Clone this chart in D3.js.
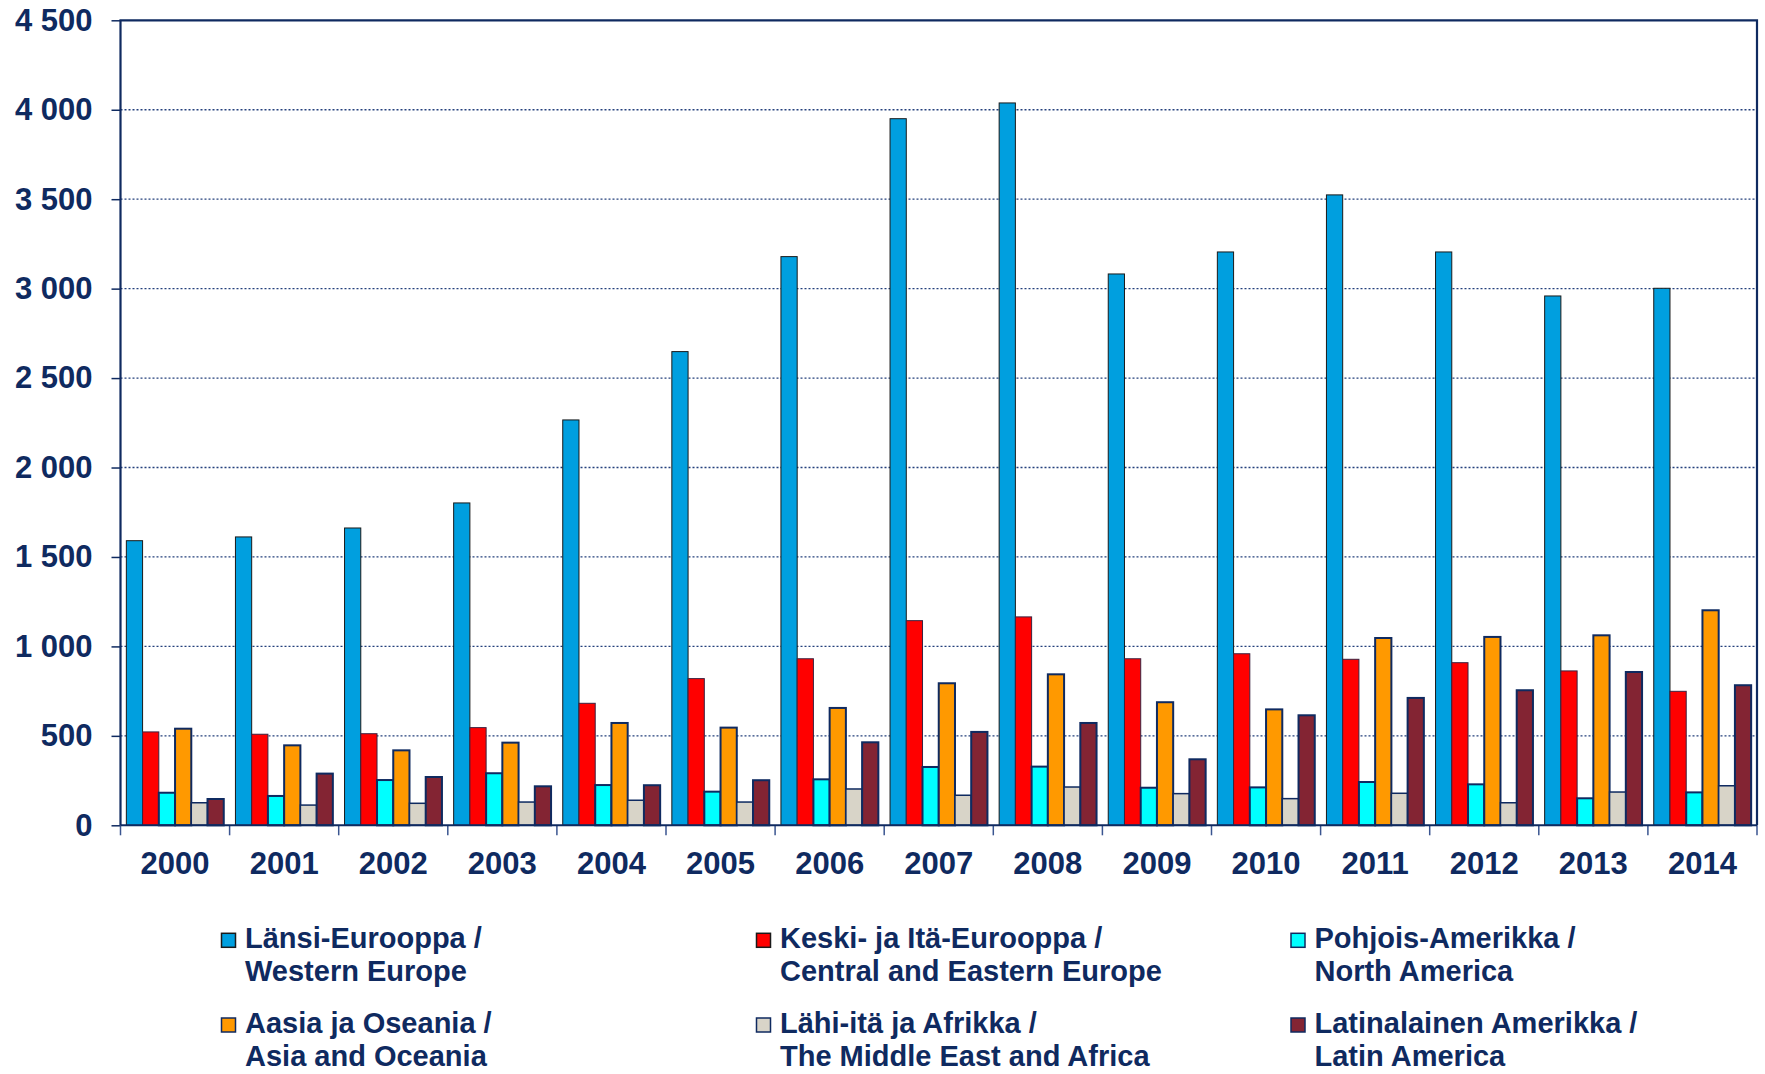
<!DOCTYPE html>
<html lang="fi">
<head>
    <meta charset="UTF-8">
    <title>Alueet 2000-2014</title>
    <script src="https://cdn.jsdelivr.net/npm/d3@7"></script>
    <style>
        body {
            margin: 0;
            background: white;
        }
        svg {
            display: block;
        }
        text {
            font-family: "Liberation Sans", Arial, sans-serif;
            font-weight: bold;
            fill: #0f2a60;
        }
    </style>
</head>
<body>
<script>
    const width  = 1765;
    const height = 1074;

    // Years on the x axis
    const years = ["2000", "2001", "2002", "2003", "2004", "2005", "2006", "2007",
                   "2008", "2009", "2010", "2011", "2012", "2013", "2014"];

    // One array for each region
    const westernEurope    = [1591, 1612, 1662, 1802, 2266, 2648, 3179, 3950, 4038, 3082, 3205, 3524, 3205, 2959, 3002];
    const centralEastern   = [522, 509, 512, 546, 682, 820, 931, 1144, 1165, 931, 959, 928, 909, 863, 749];
    const northAmerica     = [182, 164, 253, 291, 225, 188, 257, 326, 328, 210, 212, 242, 229, 151, 184];
    const asiaOceania      = [540, 447, 419, 462, 572, 546, 656, 794, 844, 688, 648, 1047, 1053, 1062, 1202];
    const middleEastAfrica = [126, 113, 123, 130, 140, 130, 203, 168, 214, 177, 149, 179, 126, 186, 221];
    const latinAmerica     = [147, 289, 270, 218, 224, 252, 464, 522, 572, 369, 615, 712, 755, 857, 783];

    const yTicks = [0, 500, 1000, 1500, 2000, 2500, 3000, 3500, 4000, 4500];

    const legendLabels = [
        ["Länsi-Eurooppa /", "Western Europe"],
        ["Keski- ja Itä-Eurooppa /", "Central and Eastern Europe"],
        ["Pohjois-Amerikka /", "North America"],
        ["Aasia ja Oseania /", "Asia and Oceania"],
        ["Lähi-itä ja Afrikka /", "The Middle East and Africa"],
        ["Latinalainen Amerikka /", "Latin America"]
    ];

    const navy = "#0f2a60";

    const series = [
        {key: "we",  values: westernEurope,    fill: "#009fdf", stroke: "#1a1a1a", sw: 1},
        {key: "cee", values: centralEastern,   fill: "#ff0000", stroke: "#3a2340", sw: 1},
        {key: "na",  values: northAmerica,     fill: "#00ffff", stroke: navy,      sw: 2},
        {key: "ao",  values: asiaOceania,      fill: "#ff9900", stroke: navy,      sw: 2},
        {key: "mea", values: middleEastAfrica, fill: "#d8d4c8", stroke: navy,      sw: 1.5},
        {key: "la",  values: latinAmerica,     fill: "#832433", stroke: navy,      sw: 2}
    ];

    const plot = {left: 120.5, right: 1757, top: 20.3, bottom: 825.3};

    const x0 = d3.scaleBand()
                 .domain(years)
                 .range([plot.left, plot.right]);

    const x1 = d3.scaleBand()
                 .domain(series.map(s => s.key))
                 .range([0, x0.bandwidth()])
                 .paddingOuter(0.36);

    const y = d3.scaleLinear()
                .domain([0, 4500])
                .range([plot.bottom, plot.top]);

    const fiLocale = d3.formatLocale({decimal: ",", thousands: " ", grouping: [3], currency: ["", ""]});
    const fmt = fiLocale.format(",d");

    const svg = d3.select("body").append("svg")
                  .attr("width", width)
                  .attr("height", height);

    // dotted gridlines
    svg.append("g")
       .selectAll("line")
       .data(yTicks.filter(d => d > 0 && d < 4500))
       .join("line")
         .attr("x1", plot.left)
         .attr("x2", plot.right)
         .attr("y1", d => y(d))
         .attr("y2", d => y(d))
         .attr("stroke", "#24407c")
         .attr("stroke-width", 1.3)
         .attr("stroke-dasharray", "2,2");

    // bars
    const groups = svg.append("g")
                      .selectAll("g")
                      .data(years)
                      .join("g")
                        .attr("transform", d => `translate(${x0(d)},0)`);

    groups.selectAll("rect")
          .data((yr, i) => series.map(s => ({s: s, v: s.values[i]})))
          .join("rect")
            .attr("x", d => x1(d.s.key))
            .attr("y", d => y(d.v))
            .attr("width", x1.bandwidth())
            .attr("height", d => y(0) - y(d.v))
            .attr("fill", d => d.s.fill)
            .attr("stroke", d => d.s.stroke)
            .attr("stroke-width", d => d.s.sw);

    // y axis
    const yAxis = svg.append("g")
                     .attr("transform", `translate(${plot.left},0)`)
                     .call(d3.axisLeft(y)
                             .tickValues(yTicks)
                             .tickFormat(fmt)
                             .tickSize(9)
                             .tickSizeOuter(0)
                             .tickPadding(19));
    yAxis.select(".domain").remove();
    yAxis.selectAll(".tick line").attr("stroke", navy).attr("stroke-width", 1.5);
    yAxis.selectAll("text")
         .attr("fill", navy)
         .style("font-size", "31px")
         .style("font-family", "\"Liberation Sans\", Arial, sans-serif")
         .style("font-weight", "bold");

    // x axis labels
    const xAxis = svg.append("g")
                     .attr("transform", `translate(0,${plot.bottom})`)
                     .call(d3.axisBottom(x0).tickSize(0).tickPadding(27));
    xAxis.select(".domain").remove();
    xAxis.selectAll("text")
         .attr("fill", navy)
         .style("font-size", "31px")
         .style("font-family", "\"Liberation Sans\", Arial, sans-serif")
         .style("font-weight", "bold");

    // tick marks between the year groups
    svg.append("g")
       .selectAll("line")
       .data(years.map(d => x0(d)).concat([plot.right]))
       .join("line")
         .attr("x1", d => d)
         .attr("x2", d => d)
         .attr("y1", plot.bottom)
         .attr("y2", plot.bottom + 10)
         .attr("stroke", "#3a5590")
         .attr("stroke-width", 1.5);

    // plot frame
    svg.append("line")
       .attr("x1", plot.left).attr("x2", plot.right)
       .attr("y1", plot.bottom).attr("y2", plot.bottom)
       .attr("stroke", navy).attr("stroke-width", 2);
    svg.append("path")
       .attr("d", `M${plot.left},${plot.bottom}V${plot.top}H${plot.right}V${plot.bottom}`)
       .attr("fill", "none")
       .attr("stroke", navy)
       .attr("stroke-width", 2.2);

    // legend, 3 columns x 2 rows
    const legendX = [221.5, 756.5, 1291];
    const legendY = [933.3, 1018];

    const legend = svg.append("g")
                      .selectAll("g")
                      .data(series)
                      .join("g")
                        .attr("transform", (d, i) => `translate(${legendX[i % 3]},${legendY[Math.floor(i / 3)]})`);

    legend.append("rect")
          .attr("width", 14)
          .attr("height", 14)
          .attr("fill", d => d.fill)
          .attr("stroke", d => d.sw > 1 ? navy : "#1a1a1a")
          .attr("stroke-width", 1.5);

    legend.append("text")
          .attr("x", 23.5)
          .attr("y", 15)
          .style("font-size", "29px")
          .selectAll("tspan")
          .data((d, i) => legendLabels[i])
          .join("tspan")
            .attr("x", 23.5)
            .attr("dy", (d, i) => i === 0 ? 0 : 33)
            .text(d => d);
</script>
</body>
</html>
